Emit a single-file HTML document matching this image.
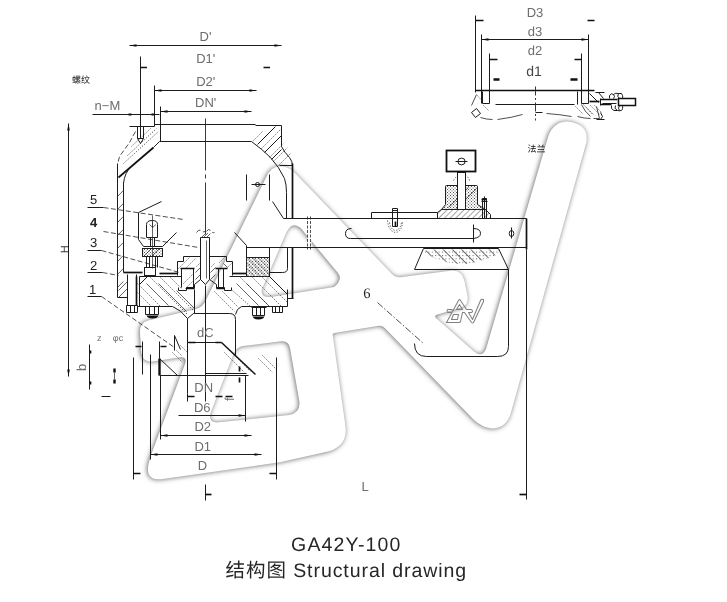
<!DOCTYPE html>
<html lang="zh">
<head>
<meta charset="utf-8">
<title>GA42Y-100 结构图 Structural drawing</title>
<style>
html,body{margin:0;padding:0;background:#fff;}
body{width:727px;height:602px;overflow:hidden;position:relative;font-family:"Liberation Sans","Noto Sans CJK SC",sans-serif;}
svg{position:absolute;left:0;top:0;display:block;will-change:transform;}
text{text-rendering:geometricPrecision;}
.k{stroke:#1c1c1c;stroke-width:1;fill:none;stroke-linecap:butt;stroke-linejoin:miter;}
.n{stroke:#222;stroke-width:.7;fill:none;}
.b{stroke:#111;stroke-width:1.7;fill:none;}
.bb{stroke:#111;stroke-width:2.4;fill:none;}
.d{stroke:#222;stroke-width:.8;fill:none;stroke-dasharray:5 2.5;}
.dd{stroke:#222;stroke-width:.8;fill:none;stroke-dasharray:1.2 1.6;}
.cl{stroke:#222;stroke-width:.9;fill:none;stroke-dasharray:52 4 4 4;}
.f{fill:#111;stroke:none;}
.w{fill:#fff;stroke:#1c1c1c;stroke-width:1;}
.cad{font-family:"Liberation Sans",sans-serif;font-size:13px;fill:#6e6e6e;text-anchor:middle;}
.num{font-family:"Liberation Sans",sans-serif;font-size:13px;fill:#222;text-anchor:middle;}
.cn{font-family:"Liberation Sans","Noto Sans CJK SC",sans-serif;font-size:9px;fill:#111;}
.cap{font-family:"Liberation Sans","Noto Sans CJK SC",sans-serif;font-size:19.5px;fill:#262626;text-anchor:middle;}
</style>
</head>
<body>
<svg width="727" height="602" viewBox="0 0 727 602">
<defs>
  <filter id="blur" x="-5%" y="-5%" width="110%" height="110%"><feGaussianBlur stdDeviation="2.8"/></filter>
  <filter id="blur2" x="-20%" y="-20%" width="140%" height="140%"><feGaussianBlur stdDeviation=".7"/></filter>
  <path id="wmAll" fill-rule="evenodd" d="M280,166.3 Q288,166.3 294,172 L392,274 Q396,278 402,277 L452,270.5 Q462,270 464.5,281 L467.5,296 Q468.8,305.5 461,307.6 L437.5,314.6 Q433.6,315.8 436.2,318.2 L474,351.5 Q482,358 486,349 L548.3,136 Q554,121 568,121.5 Q589,124 586.5,142 L510.3,415 Q505,429.5 490,428.3 Q482,427 474,420 L385.5,328.8 Q382.5,325.2 379,325.8 L334.5,333 Q332.3,333.4 332.8,335.5 L345.6,427 Q347.5,446 328,451.6 L280,462.2 L163,479 Q145,481.5 148.5,464 L151,455 L185,364 Q187.5,356.5 180,357.3 L153,361.5 Q141.5,362.5 141,350 L140,333 Q139.5,322.5 148,320.5 L196,309 Q203,307 206,300 L266,177.5 Q271,166.3 280,166.3 Z M294,225.3 Q299.5,225.3 304,232 L338,273 Q343,280 334,287 L271,297 Q260,298 262,289 L284,238 Q288.5,225.3 294,225.3 Z M243,346 L281,341.3 Q288.5,340.5 290,348 L299.3,401 Q300.8,413 289,415 L219,422.3 Q208,423.3 210.5,413 L234,353 Q237,347 243,346 Z"/>
  <pattern id="h45" width="4" height="4" patternUnits="userSpaceOnUse" patternTransform="rotate(45)"><line x1="0" y1="0" x2="0" y2="4" stroke="#222" stroke-width=".8"/></pattern>
  <pattern id="h135" width="4" height="4" patternUnits="userSpaceOnUse" patternTransform="rotate(-45)"><line x1="0" y1="0" x2="0" y2="4" stroke="#222" stroke-width=".8"/></pattern>
  <pattern id="h135w" width="6.5" height="6.5" patternUnits="userSpaceOnUse" patternTransform="rotate(-45)"><line x1="0" y1="0" x2="0" y2="6.5" stroke="#111" stroke-width="1.2"/></pattern>
  <pattern id="dots2" width="3.4" height="3.4" patternUnits="userSpaceOnUse"><rect x="0" y="0" width="1" height="1" fill="#666"/></pattern>
  <pattern id="dots" width="3" height="3" patternUnits="userSpaceOnUse"><rect x="0" y="0" width="1" height="1" fill="#555"/><rect x="1.5" y="1.5" width="1" height="1" fill="#555"/></pattern>
</defs>

<!-- ============ WATERMARK ============ -->
<g id="watermark">
  <g filter="url(#blur)" transform="translate(-0.7,0.3)"><use href="#wmAll" fill="#646464"/></g>
  <use href="#wmAll" fill="#ffffff"/>
</g>

<!-- ============ TOP DIMENSIONS (left valve) ============ -->
<g id="topdims">
  <text class="cad" x="205.5" y="40.7">D'</text>
  <line class="k" x1="129.5" y1="45.5" x2="281.5" y2="45.5"/>
  <path class="f" d="M129.5,45.5 l7,-1.3 v2.6 z M281.5,45.5 l-7,-1.3 v2.6 z"/>
  <text class="cad" x="205.7" y="62.7">D1'</text>
  <line class="k" x1="140.5" y1="56.5" x2="140.5" y2="138.5"/>
  <path class="b" d="M140.5,67.5 h6.5 M263.5,67.5 h6.5"/>
  <text class="cad" x="205.7" y="85.5">D2'</text>
  <line class="k" x1="154.5" y1="90.5" x2="256.5" y2="90.5"/>
  <path class="f" d="M154.5,90.5 l7,-1.3 v2.6 z M256.5,90.5 l-7,-1.3 v2.6 z"/>
  <line class="k" x1="154.5" y1="85.5" x2="154.5" y2="126.5"/>
  <text class="cad" x="205.7" y="106.9">DN'</text>
  <line class="k" x1="160.5" y1="111.5" x2="251.5" y2="111.5"/>
  <path class="f" d="M160.5,111.5 l7,-1.3 v2.6 z M251.5,111.5 l-7,-1.3 v2.6 z"/>
  <line class="k" x1="160.5" y1="106.5" x2="160.5" y2="141.5"/>
  <text class="cad" x="107.4" y="109.8">n−M</text>
  <line class="k" x1="92.5" y1="114.5" x2="159.5" y2="114.5"/>
  <path class="f" d="M128.5,113.5 h3 v2 h-3 z M151.5,113.5 h3 v2 h-3 z"/>
  <text class="cn" x="72" y="82.5">螺纹</text>
</g>

<!-- ============ VALVE BODY (upper) ============ -->
<g id="body">
  <!-- centre line -->
  <line class="cl" x1="205.5" y1="118.5" x2="205.5" y2="236.5"/>
  <!-- top flange -->
  <path class="k" d="M129.5,126.5 H154.5 M154.5,124.5 H255.5 M255.5,125.5 H281.5"/>
  <path class="k" d="M159.5,141.5 H251.5"/>
  <!-- threaded hole -->
  <path class="k" d="M137.5,126.5 V138.5 L140.5,143.5 L143.5,138.5 V126.5 M137.5,138.5 H143.5"/>
  <!-- left broken flange outline -->
  <path class="d" d="M135.5,131.5 L129.5,142.5 L119.5,156.5 L117.5,164.5"/>
  <path class="dd" d="M131.5,146.5 L150.5,128.5 M127.5,155.5 L156.5,128.5 M123.5,163.5 L158.5,131.5"/>
  <!-- left inner chamfer -->
  <path class="k" d="M159.5,141.5 L153.5,147.5"/>
  <path class="b" d="M153.5,147.5 L118.5,177.5"/>
  <path class="k" d="M131.5,166.5 Q124.5,172.5,123.5,183.5"/>
  <!-- left walls -->
  <line class="k" x1="117.5" y1="163.5" x2="117.5" y2="297.5"/>
  <line class="k" x1="123.5" y1="182.5" x2="123.5" y2="272.5"/>
  <path class="n" d="M117.5,196.5 l5.8,-6 M117.5,209.5 l5.8,-6 M117.5,222.5 l5.8,-6 M117.5,235.5 l5.8,-6 M117.5,248.5 l5.8,-6 M117.5,261.5 l5.8,-6 M117.5,274.5 l5.8,-6 M117.5,287.5 l5.8,-6"/>
  <!-- right hatched top -->
  <path class="k" d="M281.5,125.5 V146.5 Q284.5,152.5,289.5,157.5 Q292.5,161.5,292.5,165.5"/>
  <path class="k" d="M251.5,141.5 Q262.5,149.5,270.5,157.5 Q279.5,167.5,284.5,178.5 Q286.5,184.5,286.5,192.5 V218.5"/>
  <path class="k" d="M279.5,165.5 H292.5"/>
  <path class="k" d="M257.5,144.5 L275.5,126.5 M264.5,152.5 L281.5,135.5"/>
  <path class="dd" d="M253.5,140.5 L262.5,131.5 M261.5,148.5 L281.5,128.5 M269.5,157.5 L283.5,143.5 M273.5,161.5 L287.5,147.5 M277.5,166.5 L290.5,153.5"/>
  <path class="k" d="M271.5,159.5 L281.5,149.5"/>
  <!-- right outer wall -->
  <path class="b" d="M292.5,163.5 V218.5 M292.5,247.5 V298.5"/>
  <!-- name plate -->
  <path class="k" d="M246.5,174.5 V200.5 M269.5,174.5 V200.5 M251.5,184.5 H265.5"/>
  <circle class="k" cx="257.5" cy="184.5" r="2"/>
  <path class="k" d="M272.5,201.5 L283.5,218.5"/>
</g>

<!-- ============ LABELS 1-5 and leaders ============ -->
<g id="labels">
  <text class="num" x="93.7" y="203.6">5</text>
  <path class="k" d="M87.5,207.5 H103.5"/>
  <path class="d" d="M103.5,207.5 L183.5,219.5"/>
  <text class="num" x="93.7" y="227.2" font-weight="bold">4</text>
  <path class="d" d="M103.5,231.5 L198.5,247.5"/>
  <text class="num" x="93.7" y="247.1">3</text>
  <path class="k" d="M87.5,250.5 H101.5"/>
  <path class="d" d="M101.5,250.5 L179.5,272.5"/>
  <text class="num" x="93.7" y="269.9">2</text>
  <path class="k" d="M87.5,272.5 H102.5"/>
  <path class="d" d="M102.5,272.5 L118.5,275.5"/>
  <text class="num" x="92.6" y="293.6">1</text>
  <path class="k" d="M87.5,296.5 H101.5"/>
  <path class="d" d="M101.5,296.5 L174.5,347.5"/>
</g>

<!-- ============ INTERNAL PARTS ============ -->
<g id="internals">
  <!-- item 5 bracket -->
  <path class="k" d="M161.5,201.5 L138.5,212.5 V239.5 L143.5,246.5 H162.5 L176.5,232.5"/>
  <!-- small bolt -->
  <path class="k" d="M146.5,237.5 V224.5 Q146.5,220.5,152.5,220.5 Q157.5,220.5,157.5,224.5 V237.5 Z"/>
  <path class="n" d="M149.5,224.5 l3.2,3 l3.2,-3 M152.5,221.5 V227.5"/>
  <path class="n" d="M152.5,215.5 V268.5"/>
  <path class="k" d="M150.5,237.5 V246.5 M154.5,237.5 V246.5"/>
  <!-- hatched block -->
  <rect x="142.5" y="248.5" width="20" height="8"  class="k" style="fill:url(#dots)"/>
  <path class="n" d="M143.5,256.5 l8,-8 M151.5,256.5 l8,-8"/>
  <path class="k" d="M146.5,256.5 V267.5 M157.5,256.5 V267.5 M149.5,256.5 V267.5 M155.5,256.5 V267.5"/>
  <rect class="k" x="144.5" y="267.5" width="11" height="8"/>
  <!-- left wall bottom & thick lines -->
  <path class="b" d="M123.5,272.5 H142.5"/>
  <path class="b" d="M159.5,273.5 H177.5"/>
  <path class="b" d="M232.5,273.5 H246.5"/>
  <path class="k" d="M139.5,276.5 H181.5 M229.5,276.5 H246.5"/>
  <!-- left long bolt -->
  <path class="k" d="M127.5,274.5 V305.5 M136.5,274.5 V305.5"/>
  <path class="b" d="M136.5,276.5 V305.5"/>
  <path class="k" d="M126.5,305.5 H137.5 V312.5 H126.5 Z M130.5,305.5 V312.5 M134.5,305.5 V312.5"/>
  <path class="k" d="M117.5,297.5 H127.5"/>
  <path class="n" d="M118.5,290.5 l9,-9 M118.5,297.5 l9,-9"/>
  <!-- central stem -->
  <path class="k" d="M200.5,237.5 V279.5 L205.5,284.5 L209.5,279.5 V237.5 Z"/>
  <path class="n" d="M206.5,240.5 V278.5"/>
  <path class="n" d="M201.5,237.5 l4,-4 M203.5,237.5 l4.5,-4.5 M206.5,237.5 l4,-4"/>
  <path class="d" d="M196.5,232.5 q2.5,-4,5,-1.5 q2.5,2.5,4.5,-1 M206.5,231.5 q2,-3.5,4,-1 q2,3,4,2"/>
  <!-- cap / seat -->
  <path class="k" d="M200.5,256.5 H183.5 V261.5 H177.5 V275.5 M209.5,256.5 H226.5 V261.5 H232.5 V275.5"/>
  <path class="b" d="M180.5,268.5 H194.5 M215.5,268.5 H227.5"/>
  <path class="k" d="M181.5,268.5 V287.5 M193.5,268.5 V287.5 M218.5,268.5 V287.5 M223.5,268.5 V287.5"/>
  <path class="k" d="M178.5,287.5 V290.5 H186.5 V287.5 H194.5 M224.5,287.5 V290.5 H231.5 V287.5 M216.5,287.5 H224.5"/>
  <path class="b" d="M186.5,288.5 H194.5 M216.5,288.5 H224.5"/>
  <path class="k" d="M194.5,284.5 L200.5,279.5 M209.5,279.5 L216.5,284.5 M194.5,284.5 V288.5 M216.5,284.5 V288.5"/>
  <path class="dd" d="M184.5,262.5 l5,-5 M186.5,267.5 l9,-9 M178.5,268.5 l5,-5 M196.5,266.5 l4,-4 M211.5,266.5 l4,-4 M219.5,262.5 l5,-5 M226.5,268.5 l5,-5 M183.5,283.5 l9,-9 M185.5,288.5 l8,-8"/>
  <path class="n" d="M195.5,272.5 l5,-5 M195.5,279.5 l5,-5 M210.5,272.5 l5,-5 M210.5,279.5 l5,-5 M227.5,267.5 l-4,-4"/>
  <!-- right inner parts -->
  <path class="k" d="M234.5,232.5 L246.5,245.5 V276.5"/>
  <rect x="246.5" y="257.5" width="23" height="19"  class="k" style="fill:url(#h135)"/>
  <rect x="246.5" y="257.5" width="23" height="19"   style="stroke:none;fill:url(#dots)"/>
  <path class="k" d="M269.5,247.5 V276.5 M287.5,247.5 V268.5 Q287.5,272.5,282.5,272.5 H269.5"/>
  <!-- base plate -->
  <path class="k" d="M137.5,306.5 H172.5 M241.5,306.5 H287.5 V289.5 M287.5,298.5 H293.5"/>
  <path class="k" d="M269.5,276.5 L287.5,294.5"/>
  <!-- base plate hatching (section lines) -->
  <path class="k" d="M139.5,276.5 V306.5 M139.5,284.5 L147.5,276.5"/>
  <path class="dd" d="M150.5,277.5 L187.5,314.5 M160.5,277.5 L193.5,310.5 M170.5,277.5 L181.5,288.5 M137.5,283.5 L160.5,306.5 M137.5,292.5 L151.5,306.5 M232.5,290.5 L250.5,306.5 M222.5,291.5 L238.5,307.5 M240.5,277.5 L268.5,305.5 M252.5,277.5 L281.5,306.5 M262.5,277.5 L287.5,302.5 M214.5,291.5 L234.5,311.5"/>
  <path class="n" d="M146.5,283.5 L168.5,305.5 M158.5,283.5 L186.5,311.5 M176.5,290.5 L194.5,308.5 M236.5,283.5 L258.5,305.5 M246.5,283.5 L269.5,306.5"/>
  <!-- bolts under base plate -->
  <path class="k" d="M144.5,306.5 H159.5 M145.5,306.5 V314.5 H158.5 V306.5 M149.5,306.5 V314.5 M154.5,306.5 V314.5"/>
  <path class="f" d="M146.5,315.5 H158.5 Q157.5,318.5,152.5,318.5 Q147.5,318.5,146.5,315.5 Z"/>
  <path class="k" d="M251.5,307.5 H266.5 M252.5,307.5 V315.5 H264.5 V307.5 M256.5,307.5 V315.5 M260.5,307.5 V315.5"/>
  <path class="f" d="M252.5,316.5 H264.5 Q263.5,319.5,258.5,319.5 Q253.5,319.5,252.5,316.5 Z"/>
  <path class="k" d="M272.5,306.5 V312.5 H282.5 V306.5 M275.5,306.5 V312.5 M279.5,306.5 V312.5"/>
</g>

<!-- ============ NECK + LOWER FLANGE ============ -->
<g id="neck">
  <line class="k" x1="205.5" y1="285.5" x2="205.5" y2="401.5"/>
  <path class="k" d="M194.5,289.5 V313.5"/>
  <path class="k" d="M187.5,393.5 V318.5 L193.5,313.5 H229.5 Q235.5,313.5,235.5,319.5 V355.5"/>
  <path class="k" d="M172.5,306.5 Q180.5,309.5,187.5,318.5"/>
  <path class="k" d="M241.5,306.5 Q236.5,308.5,235.5,314.5"/>
  <text class="cad" x="205.3" y="337.4">dC</text>
  <path class="k" d="M187.5,342.5 H221.5"/>
  <path d="M221.5,342.5 L255.5,374.5" style="stroke:#111;stroke-width:1.4;fill:none"/>
  <path class="b" d="M188.5,342.5 H195.5 M215.5,342.5 H221.5"/>
  <!-- small triangle left of neck -->
  <path class="k" d="M174.5,335.5 V350.5 M174.5,335.5 L180.5,349.5"/>
  <path class="dd" d="M176.5,350.5 l6,6 M172.5,352.5 l10,10 M180.5,345.5 l7,7"/>
  <!-- flange -->
  <path class="bb" d="M159.5,358.5 V375.5"/>
  <path class="k" d="M159.5,358.5 L177.5,375.5"/>
  <path class="k" d="M159.5,375.5 H248.5 M205.5,373.5 H246.5"/>
  <path class="k" d="M245.5,375.5 V421.5"/>
  <path class="dd" d="M258.5,358.5 L272.5,372.5 M262.5,355.5 L276.5,369.5 M224.5,352.5 L244.5,372.5 M230.5,351.5 L250.5,371.5"/>
  <path class="b" d="M239.5,366.5 V371.5 M239.5,377.5 V382.5"/>
  <!-- verticals under flange -->
  <path class="k" d="M133.5,357.5 V479.5 M142.5,341.5 V374.5 M150.5,354.5 V459.5 M160.5,375.5 V439.5 M187.5,393.5 V401.5 M276.5,357.5 V479.5"/>
  <path class="b" d="M135.5,346.5 H141.5 M160.5,346.5 H166.5"/>
  <path class="k" d="M159.5,341.5 V358.5"/>
  <!-- DN -->
  <text class="cad" x="203.7" y="392.4">DN</text>
  <path class="b" d="M187.5,396.5 H194.5 M215.5,396.5 H222.5 M225.5,396.5 H232.5"/>
  <text class="cad" transform="translate(234,399.2) rotate(-90)">f</text>
  <text class="cad" x="202.3" y="411.8">D6</text>
  <path class="k" d="M178.5,415.5 H245.5"/>
  <path class="f" d="M245.5,415.5 l-7,-1.3 v2.6 z"/>
  <text class="cad" x="202.7" y="431">D2</text>
  <path class="k" d="M160.5,435.5 H251.5"/>
  <path class="f" d="M160.5,435.5 l7,-1.3 v2.6 z M251.5,435.5 l-7,-1.3 v2.6 z"/>
  <text class="cad" x="202.8" y="451">D1</text>
  <path class="k" d="M150.5,454.5 H261.5"/>
  <path class="f" d="M150.5,454.5 l7,-1.3 v2.6 z M261.5,454.5 l-7,-1.3 v2.6 z"/>
  <text class="cad" x="202.5" y="470.2">D</text>
  <path class="b" d="M133.5,473.5 H140.5 M269.5,473.5 H276.5"/>
  <!-- bottom centre tick / L -->
  <path class="k" d="M205.5,484.5 V500.5"/>
  <path class="b" d="M205.5,494.5 H211.5"/>
  <text class="cad" x="365" y="490.9">L</text>
</g>

<!-- ============ LEFT SIDE DIMS (H, b, z, φc) ============ -->
<g id="leftdims">
  <line class="k" x1="68.5" y1="123.5" x2="68.5" y2="376.5"/>
  <path class="f" d="M68.5,123.5 l-1.3,7 h2.6 z M68.5,376.5 l-1.3,-7 h2.6 z"/>
  <text class="cad" transform="translate(67.6,249.3) rotate(-90)" style="font-size:10.5px;fill:#333">H</text>
  <text class="cad" x="99.2" y="341.2" style="font-size:9px">z</text>
  <text class="cad" x="118" y="341.2" style="font-size:9px">φc</text>
  <path class="k" d="M89.5,344.5 V389.5"/>
  <path class="b" d="M90.5,350.5 V353.5 M90.5,381.5 V384.5"/>
  <text class="cad" transform="translate(86,367.4) rotate(-90)">b</text>
  <path class="bb" d="M114.5,368.5 V372.5 M114.5,379.5 V383.5"/>
  <path class="n" d="M114.5,372.5 V379.5"/>
  <path class="k" d="M101.5,396.5 H110.5"/>
</g>

<!-- ============ LEVER ARM ============ -->
<g id="lever">
  <path class="k" d="M283.5,218.5 H526.5 M246.5,247.5 H526.5"/>
  <path class="b" d="M526.5,218.5 V249.5"/>
  <path class="k" d="M526.5,249.5 V499.5"/>
  <path class="b" d="M519.5,494.5 H526.5"/>
  <path d="M307.5,219.5 h4 v27.5 h-4 z" style="fill:#fff;stroke:none"/>
  <path class="d" d="M307.5,216.5 V249.5 M310.5,216.5 V249.5" style="stroke-dasharray:3 1.5"/>
  <!-- slot -->
  <path class="k" d="M351.5,228.5 Q345.5,228.5,345.5,233.5 Q345.5,238.5,350.5,238.5 H473.5"/>
  <path class="k" d="M473.5,224.5 V242.5 M473.5,228.5 Q480.5,228.5,480.5,233.5 Q480.5,237.5,473.5,238.5"/>
  <!-- phi symbol -->
  <ellipse class="k" cx="511.5" cy="233.5" rx="2.3" ry="3"/>
  <path class="k" d="M511.5,227.5 V238.5"/>
  <!-- top plate -->
  <path class="k" d="M371.5,218.5 V212.5 H437.5"/>
  <!-- left pin -->
  <path class="k" d="M392.5,208.5 H397.5 V226.5 H392.5 Z M392.5,210.5 H397.5"/>
  <path class="b" d="M395.5,221.5 V226.5"/>
  <path class="dd" d="M389.5,222.5 Q390.5,229.5,395.5,230.5 Q400.5,229.5,401.5,222.5 M387.5,220.5 Q388.5,231.5,395.5,232.5 Q402.5,231.5,402.5,220.5"/>
  <!-- hatched base + dotted block -->
  <path d="M437.5,218.5 V212.5 L441.5,209.5 H485.5 L490.5,214.5 V218.5 Z"  class="k" style="fill:url(#h45)"/>
  <path d="M441.5,209.5 L445.5,204.5 V186.5 Q445.5,185.5,446.5,185.5 H476.5 Q477.5,185.5,477.5,186.5 V204.5 L485.5,209.5 Z"  class="k" style="fill:url(#dots)"/>
  <path class="n" d="M448.5,207.5 L468.5,187.5 M456.5,208.5 L476.5,188.5"/>
  <!-- stem + box -->
  <rect class="w" x="457.5" y="172.5" width="8" height="37"/>
  <path class="dd" d="M453.5,180.5 q2,-3,4,-5 M469.5,180.5 q-1,-3,-3,-5"/>
  <rect x="446.5" y="150.5" width="29" height="21" fill="#fff" stroke="#111" stroke-width="1.8"/>
  <ellipse class="k" cx="461.5" cy="161.5" rx="3.6" ry="3.4"/>
  <path class="k" d="M455.5,161.5 H467.5"/>
  <!-- right pin -->
  <path class="k" d="M482.5,198.5 H486.5 V218.5 H482.5 Z M481.5,201.5 H487.5 M484.5,196.5 V218.5"/>
  <path class="b" d="M481.5,199.5 H486.5"/>
  <!-- trapezoid under lever -->
  <path class="k" d="M423.5,248.5 H498.5 L508.5,269.5 H414.5 Z"/>
  <path d="M426.5,249.5 H498.5 L499.5,253.5 Q480.5,262.5,462.5,264.5 Q440.5,263.5,424.5,252.5 Z"   style="stroke:none;fill:url(#h135w)"/>
  <path d="M426.5,249.5 H498.5 L499.5,253.5 Q480.5,262.5,462.5,264.5 Q440.5,263.5,424.5,252.5 Z"   style="stroke:none;fill:url(#dots2)"/>
  <!-- weight box -->
  <path class="k" d="M508.5,269.5 V346.5 Q508.5,356.5,497.5,356.5 H426.5 Q414.5,356.5,414.5,343.5"/>
  <!-- label 6 -->
  <text x="366.9" y="297.8" font-family="Liberation Serif,serif" font-size="14.5" fill="#222" text-anchor="middle">6</text>
  <path class="d" d="M377.5,302.5 L423.5,343.5" style="stroke-dasharray:7 2 1.5 2"/>
  <!-- small AV logo -->
  <g fill="none" stroke="#808080" stroke-width="1.05" stroke-linejoin="round">
    <path d="M446.5,322.5 L458.5,300.5 Q459.5,298.5,460.5,300.5 L466.5,309.5 H471.5 Q473.5,311.5,471.5,312.5 H468.5 L472.5,319.5 L480.5,300.5 Q481.5,298.5,483.5,299.5 Q483.5,300.5,483.5,301.5 L473.5,322.5 Q472.5,323.5,471.5,322.5 L464.5,312.5 H462.5 L460.5,321.5 Q460.5,322.5,458.5,322.5 H447.5 Q445.5,322.5,446.5,322.5 Z"/>
    <path d="M459.5,304.5 L456.5,309.5 H462.5 Z"/>
    <path d="M453.5,314.5 L451.5,319.5 H457.5 L458.5,314.5 Z"/>
    <path d="M447.5,309.5 H452.5 M447.5,312.5 H451.5 M447.5,309.5 Q446.5,311.5,447.5,312.5"/>
  </g>
</g>

<!-- ============ TOP-RIGHT DETAIL VIEW ============ -->
<g id="detail">
  <text class="cad" x="535" y="16.5">D3</text>
  <path class="k" d="M475.5,15.5 V92.5"/>
  <path class="b" d="M475.5,20.5 H483.5 M587.5,20.5 H594.5"/>
  <text class="cad" x="535" y="36.3">d3</text>
  <path class="k" d="M481.5,39.5 H588.5 M481.5,34.5 V103.5 M588.5,34.5 V103.5"/>
  <path class="f" d="M481.5,39.5 l7,-1.3 v2.6 z M588.5,39.5 l-7,-1.3 v2.6 z"/>
  <text class="cad" x="535" y="55">d2</text>
  <path class="k" d="M489.5,53.5 V103.5 M581.5,53.5 V103.5"/>
  <path class="b" d="M489.5,59.5 H497.5 M574.5,59.5 H581.5"/>
  <text class="cad" x="534" y="75.7" style="font-size:14px;fill:#444">d1</text>
  <path class="bb" d="M493.5,79.5 H499.5 M570.5,79.5 H577.5"/>
  <path class="b" d="M475.5,90.5 H594.5"/>
  <path class="k" d="M482.5,91.5 V103.5 H489.5 M581.5,103.5 H588.5"/>
  <path class="k" d="M495.5,104.5 H574.5"/>
  <path class="cl" d="M535.5,86.5 V120.5" style="stroke-dasharray:9 2.5 2 2.5"/>
  <path class="k" d="M535.5,112.5 H542.5"/>
  <!-- broken outline below -->
  <path class="d" d="M476.5,94.5 L471.5,105.5 M480.5,117.5 Q486.5,119.5,492.5,119.5 M497.5,119.5 Q512.5,117.5,522.5,114.5 M546.5,113.5 Q560.5,114.5,571.5,116.5 M577.5,116.5 Q584.5,118.5,590.5,118.5 M596.5,106.5 L599.5,118.5 L593.5,118.5 M581.5,104.5 Q584.5,111.5,590.5,116.5" style="stroke-dasharray:none"/>
  <path class="k" d="M471.5,112.5 L476.5,108.5 L480.5,113.5 L475.5,117.5 Z"/>
  <path class="dd" d="M477.5,95.5 l5,6 M483.5,105.5 l5,5 M575.5,106.5 l8,8 M583.5,104.5 l8,9"/>
  <!-- fitting on right -->
  <path class="k" d="M589.5,93.5 L598.5,102.5 M595.5,92.5 H604.5 M598.5,92.5 L603.5,98.5 M577.5,91.5 V104.5"/>
  <path class="b" d="M589.5,101.5 H599.5"/>
  <path class="k" d="M600.5,98.5 V105.5 M602.5,103.5 H616.5"/>
  <path class="b" d="M600.5,99.5 H617.5 M600.5,104.5 H611.5"/>
  <path class="k" d="M609.5,98.5 V95.5 Q611.5,92.5,613.5,94.5 Q615.5,92.5,618.5,93.5 Q622.5,92.5,622.5,95.5 Q623.5,97.5,621.5,98.5 M613.5,94.5 Q615.5,96.5,613.5,98.5 M618.5,93.5 Q616.5,96.5,619.5,98.5"/>
  <path class="k" d="M611.5,105.5 V108.5 Q613.5,111.5,617.5,110.5 Q622.5,111.5,622.5,108.5 Q623.5,106.5,621.5,105.5 M615.5,105.5 Q613.5,108.5,617.5,110.5 M619.5,105.5 Q617.5,108.5,619.5,110.5"/>
  <rect x="618.5" y="98.5" width="17" height="7" style="fill:#fff;stroke:#111;stroke-width:1.5"/>
  <path class="k" d="M600.5,112.5 L602.5,116.5 L600.5,119.5 M596.5,119.5 H604.5"/>
  <path class="dd" d="M590.5,105.5 l9,9 M594.5,105.5 l7,7 M586.5,107.5 l8,8"/>
  <text class="cn" x="527.5" y="151.5">法兰</text>
</g>

<!-- SECTION: DRAWING -->

<!-- ============ CAPTIONS ============ -->
<text class="cap" x="346.3" y="551" letter-spacing="1.15">GA42Y-100</text>
<text class="cap" x="346.3" y="577.3" letter-spacing=".93">结构图 Structural drawing</text>
</svg>
</body>
</html>
